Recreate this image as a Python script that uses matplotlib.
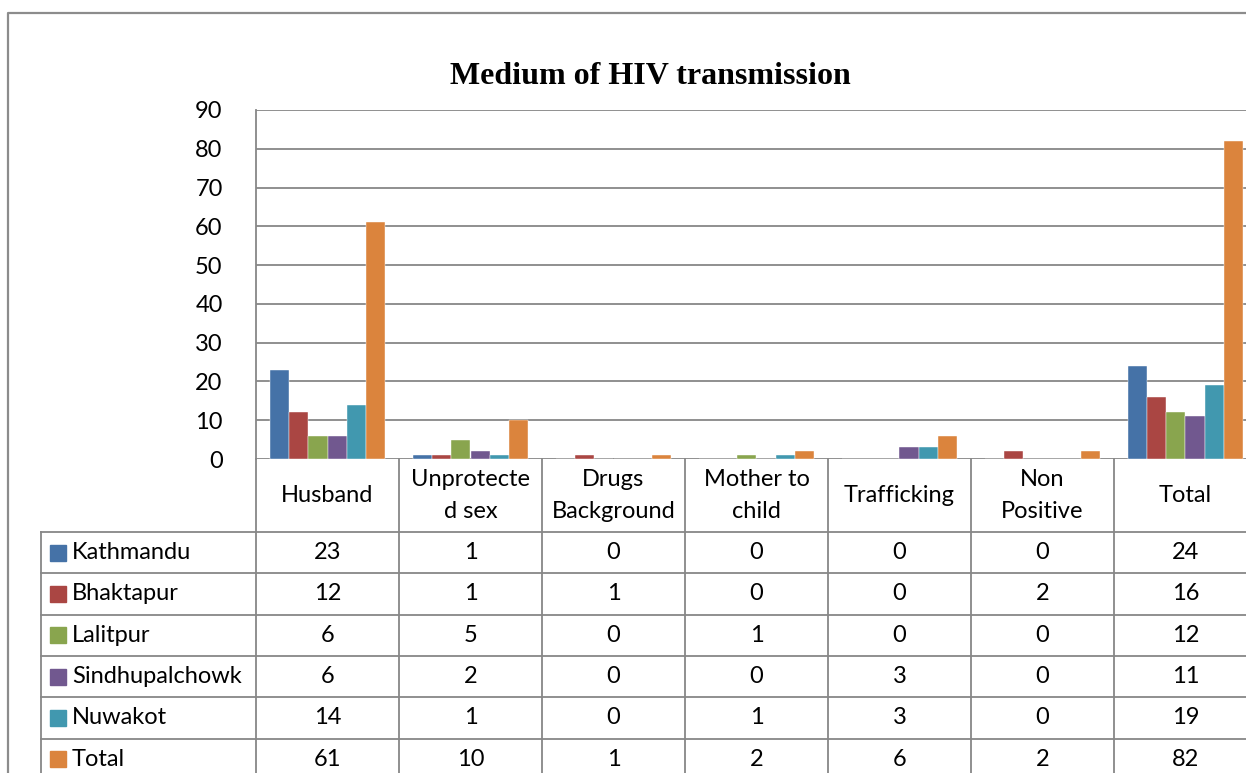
import matplotlib
matplotlib.use("Agg")
import matplotlib.pyplot as plt
import numpy as np

# ---- data ----
categories = ["Husband", "Unprotecte\nd sex", "Drugs\nBackground", "Mother to\nchild",
              "Trafficking", "Non\nPositive", "Total"]
series = ["Kathmandu", "Bhaktapur", "Lalitpur", "Sindhupalchowk", "Nuwakot", "Total"]
kathmandu = [23, 1, 0, 0, 0, 0, 24]
bhaktapur = [12, 1, 1, 0, 0, 2, 16]
lalitpur = [6, 5, 0, 1, 0, 0, 12]
sindhupalchowk = [6, 2, 0, 0, 3, 0, 11]
nuwakot = [14, 1, 0, 1, 3, 0, 19]
total = [61, 10, 1, 2, 6, 2, 82]
values = [kathmandu, bhaktapur, lalitpur, sindhupalchowk, nuwakot, total]
yticks = list(range(0, 91, 10))

colors = ["#4572A7", "#AA4643", "#89A54E", "#71588F", "#4198AF", "#DB843D"]
grid_c = "#878787"
font = "Lato"
fs = 17

W, H = 1246, 773
fig = plt.figure(figsize=(W / 100, H / 100), dpi=100)

# layout in pixels
left, top, zero = 256, 110, 459
colw = 143
right = left + colw * len(categories)
leg_left = 41
header_h = 73
row_h = 41.3

ax = fig.add_axes([left / W, 1 - zero / H, (right - left) / W, (zero - top) / H])
n = len(series)
bw = 0.8 / n
x = np.arange(len(categories))
for i, (name, vals) in enumerate(zip(series, values)):
    ax.bar(x - 0.4 + bw * (i + 0.5), vals, width=bw, color=colors[i],
           edgecolor="white", linewidth=0.3, zorder=3)
ax.set_xlim(-0.5, len(categories) - 0.5)
ax.set_ylim(0, 90)
ax.set_yticks(yticks)
ax.set_yticklabels([str(t) for t in yticks], fontsize=fs, family=font)
ax.tick_params(axis="y", length=0, pad=24)
ax.set_xticks([])
ax.yaxis.grid(True, color=grid_c, linewidth=1.3)
ax.set_axisbelow(True)
for s in ["top", "right", "bottom"]:
    ax.spines[s].set_visible(False)
ax.spines["left"].set_color(grid_c)
ax.spines["left"].set_linewidth(1.3)

# overlay in pixel coordinates for border, title and data table
ov = fig.add_axes([0, 0, 1, 1], facecolor="none")
ov.set_xlim(0, W)
ov.set_ylim(H, 0)
ov.axis("off")

# outer chart border
ov.plot([8, 8, W + 20], [H + 20, 13, 13], color="#8C8C8C", lw=1.6)

ov.text(650, 76, "Medium of HIV transmission", ha="center", va="center",
        fontsize=23, fontweight="bold", family="Liberation Serif")

nrows = len(series)
bottom = zero + header_h + row_h * nrows
# vertical lines
for j in range(len(categories) + 1):
    xv = left + colw * j
    ov.plot([xv, xv], [zero, bottom + 10], color=grid_c, lw=1.3)
ov.plot([leg_left, leg_left], [zero + header_h, bottom + 10], color=grid_c, lw=1.3)
# horizontal lines
for r in range(nrows + 1):
    yh = zero + header_h + row_h * r
    ov.plot([leg_left, right], [yh, yh], color=grid_c, lw=1.3)

# header labels
for j, cat in enumerate(categories):
    ov.text(left + colw * (j + 0.5), zero + header_h / 2, cat, ha="center",
            va="center", fontsize=fs, family=font, linespacing=1.6)

# rows
for r, (name, vals) in enumerate(zip(series, values)):
    yc = zero + header_h + row_h * (r + 0.5)
    ov.add_patch(plt.Rectangle((50, yc - 8), 16, 16, color=colors[r]))
    ov.text(72, yc, name, ha="left", va="center", fontsize=fs, family=font)
    for j, v in enumerate(vals):
        ov.text(left + colw * (j + 0.5), yc, str(v), ha="center", va="center",
                fontsize=fs, family=font)

fig.savefig("out.png", dpi=100)
